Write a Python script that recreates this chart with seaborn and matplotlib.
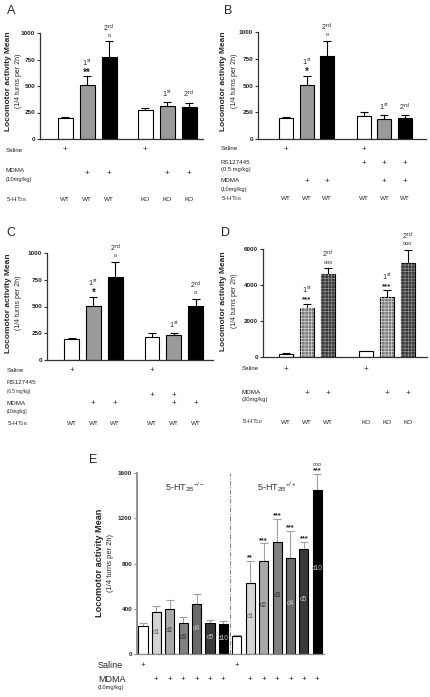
import numpy as np
import pandas as pd
import seaborn as sns
import matplotlib.pyplot as plt
from matplotlib.transforms import blended_transform_factory

W, H = 431, 697

# ---------------- data ----------------
# Panel A: WT / KO, saline + two MDMA sessions
A_vals = [195, 505, 772, 278, 312, 306]
A_sem = [10, 87, 148, 12, 36, 38]
A_sig = ["", "**", "o", "", "", ""]
A_ord = ["", "1st", "2nd", "", "1st", "2nd"]
A_saline = ["+", "", "", "+", "", ""]
A_mdma = ["", "+", "+", "", "+", "+"]
A_geno = ["WT", "WT", "WT", "KO", "KO", "KO"]

# Panel B: RS127445 pretreatment on all second-group bars
B_vals = [197, 505, 772, 215, 187, 200]
B_sem = [8, 87, 148, 37, 38, 25]
B_sig = ["", "*", "o", "", "", ""]
B_ord = ["", "1st", "2nd", "", "1st", "2nd"]
B_saline = ["+", "", "", "+", "", ""]
B_rs = ["", "", "", "+", "+", "+"]
B_mdma = ["", "+", "+", "", "+", "+"]
B_geno = ["WT"] * 6

# Panel C: RS127445 only before the first MDMA session
C_vals = [197, 505, 772, 212, 234, 506]
C_sem = [8, 87, 148, 38, 16, 63]
C_sig = ["", "*", "o", "", "", "o"]
C_ord = ["", "1st", "2nd", "", "1st", "2nd"]
C_saline = ["+", "", "", "+", "", ""]
C_rs = ["", "", "", "+", "+", ""]
C_mdma = ["", "+", "+", "", "+", "+"]
C_geno = ["WT"] * 6

# Panel D: MDMA 30 mg/kg
D_vals = [180, 2740, 4620, 320, 3320, 5230]
D_sem = [15, 230, 300, 25, 390, 700]
D_sig = ["", "***", "ooo", "", "***", "ooo"]
D_ord = ["", "1st", "2nd", "", "1st", "2nd"]
D_saline = ["+", "", "", "+", "", ""]
D_mdma = ["", "+", "+", "", "+", "+"]
D_geno = ["WT", "WT", "WT", "KO", "KO", "KO"]

# Panel E: daily MDMA, KO (-/-) then WT (+/+)
E_days = ["", "d1", "d2", "d3", "d4", "d5", "d10"]
E_ko = [250, 370, 400, 274, 439, 274, 265]
E_ko_sem = [24, 51, 75, 51, 90, 27, 30]
E_wt = [159, 631, 821, 987, 853, 924, 1452]
E_wt_sem = [9, 193, 157, 204, 234, 69, 139]
E_wt_sig = ["", "**", "***", "***", "***", "***", "***"]
E_saline = ["+", "", "", "", "", "", ""]
E_mdma = ["", "+", "+", "+", "+", "+", "+"]

# ---------------- style ----------------
sns.set_theme(style="ticks")
plt.rcParams["font.family"] = ["Liberation Sans", "DejaVu Sans"]
plt.rcParams["mathtext.fontset"] = "custom"
plt.rcParams["mathtext.rm"] = "Liberation Sans"
plt.rcParams["mathtext.it"] = "Liberation Sans:italic"
plt.rcParams["mathtext.bf"] = "Liberation Sans:bold"
plt.rcParams["hatch.linewidth"] = 0.5

fig = plt.figure(figsize=(W / 100, H / 100), dpi=100)
HT2B = r"5-HT$_{\mathregular{2B}}$"


def add_ax(l, t, r, b):
    return fig.add_axes([l / W, 1 - b / H, (r - l) / W, (b - t) / H])


def ftext(x, y, s, **kw):
    fig.text(x / W, 1 - y / H, s, **kw)


def group_pos(n, split, gap):
    return [i + (gap if i >= split else 0) for i in range(n)]


def bar_panel(ax, pos, vals, sems, colors, yticks, xlim, ecolor="black",
              spine="#333333", width=0.68):
    keys = [f"b{i}" for i in range(len(vals))]
    df = pd.DataFrame({"pos": pos, "val": vals, "key": keys})
    sns.barplot(data=df, x="pos", y="val", hue="key", hue_order=keys,
                palette=dict(zip(keys, colors)), native_scale=True,
                width=width, edgecolor="black", linewidth=0.8,
                errorbar=None, legend=False, ax=ax)
    eb = ax.errorbar(pos, vals, yerr=[np.zeros(len(vals)), sems], fmt="none",
                     ecolor=ecolor, elinewidth=0.8, capsize=3, capthick=0.8,
                     zorder=0.5)
    eb[1][0].set_visible(False)
    ax.set_xlim(*xlim)
    ax.set_ylim(0, yticks[-1])
    ax.set_yticks(yticks)
    ax.set_yticklabels([str(t) for t in yticks], fontsize=4.6,
                       fontweight="bold")
    ax.set_xlabel("")
    ax.set_ylabel("")
    ax.tick_params(axis="x", bottom=False, labelbottom=False)
    ax.tick_params(axis="y", length=2.5, width=0.8, pad=1, color=spine)
    for s in ["top", "right"]:
        ax.spines[s].set_visible(False)
    for s in ["left", "bottom"]:
        ax.spines[s].set_color(spine)
        ax.spines[s].set_linewidth(0.9)


def annotate(ax, pos, vals, sems, sig, ords, star_fs=7.0, star_off=2.4):
    for p, v, s, g, o in zip(pos, vals, sems, sig, ords):
        top = v + s
        if g:
            star = "*" in g
            ax.annotate(g, (p, top), xytext=(0, star_off if star else 4.6),
                        textcoords="offset points", ha="center", va="center",
                        fontsize=star_fs if star else 4.0,
                        fontweight="bold" if star else "normal")
        if o:
            txt = o[0] + r"$^{\mathregular{" + o[1:] + "}}$"
            off = 9.8 if g else 5.8
            ax.annotate(txt, (p, top), xytext=(0, off), textcoords="offset points",
                        ha="center", va="center", fontsize=5.2)


def mark_row(ax, pos, marks, y, fs=5.8, weight="normal"):
    trans = blended_transform_factory(ax.transData, fig.transFigure)
    for p, m in zip(pos, marks):
        if m:
            ax.text(p, 1 - y / H, m, transform=trans, ha="center", va="center",
                    fontsize=fs, fontweight=weight, clip_on=False)


def ylabels(xm, xs, y, fs1=6.0, fs2=5.0):
    ftext(xm, y, "Locomotor activity Mean", rotation=90, ha="center",
          va="center", fontsize=fs1, fontweight="bold")
    ftext(xs, y, "(1/4 turns per 2h)", rotation=90, ha="center",
          va="center", fontsize=fs2)


three = ["white", "#9a9a9a", "black"] * 2

# ---------------- A ----------------
axA = add_ax(40, 33, 203, 139)
posA = group_pos(6, 3, 0.64)
bar_panel(axA, posA, A_vals, A_sem, three, [0, 250, 500, 750, 1000], (-1.14, 6.27))
annotate(axA, posA, A_vals, A_sem, A_sig, A_ord)
ftext(11, 11, "A", ha="center", va="center", fontsize=9)
ylabels(9, 19, 81)
ftext(6, 150, "Saline", va="center", fontsize=4.5)
mark_row(axA, posA, A_saline, 150)
ftext(6, 171, "MDMA", va="center", fontsize=4.5)
ftext(6, 179, "(10mg/kg)", va="center", fontsize=4.2)
mark_row(axA, posA, A_mdma, 173)
ftext(6, 200, HT2B, va="center", fontsize=4.5)
mark_row(axA, posA, A_geno, 200, fs=4.6)

# ---------------- B ----------------
axB = add_ax(258, 32, 426, 139)
posB = group_pos(6, 3, 0.8)
bar_panel(axB, posB, B_vals, B_sem, three, [0, 250, 500, 750, 1000], (-1.37, 6.83))
annotate(axB, posB, B_vals, B_sem, B_sig, B_ord)
ftext(228, 11, "B", ha="center", va="center", fontsize=9)
ylabels(224, 235, 81)
ftext(221, 149, "Saline", va="center", fontsize=4.5)
mark_row(axB, posB, B_saline, 149)
ftext(221, 162, "RS127445", va="center", fontsize=4.5)
ftext(221, 170, "(0.5 mg/kg)", va="center", fontsize=4.2)
mark_row(axB, posB, B_rs, 163)
ftext(221, 181, "MDMA", va="center", fontsize=4.5)
ftext(221, 189, "(10mg/kg)", va="center", fontsize=4.2)
mark_row(axB, posB, B_mdma, 181)
ftext(221, 199, HT2B, va="center", fontsize=4.5)
mark_row(axB, posB, B_geno, 199, fs=4.6)

# ---------------- C ----------------
axC = add_ax(47, 253, 213, 360)
posC = group_pos(6, 3, 0.68)
bar_panel(axC, posC, C_vals, C_sem, three, [0, 250, 500, 750, 1000], (-1.13, 6.48))
annotate(axC, posC, C_vals, C_sem, C_sig, C_ord)
ftext(11, 233, "C", ha="center", va="center", fontsize=9)
ylabels(9, 19, 303)
ftext(7, 371, "Saline", va="center", fontsize=4.5)
mark_row(axC, posC, C_saline, 371)
ftext(7, 382, "RS127445", va="center", fontsize=4.5)
ftext(7, 391, "(0.5 mg/kg)", va="center", fontsize=3.3)
mark_row(axC, posC, C_rs, 395)
ftext(7, 403, "MDMA", va="center", fontsize=4.5)
ftext(7, 411, "(10mg/kg)", va="center", fontsize=3.3)
mark_row(axC, posC, C_mdma, 403)
ftext(7, 424, HT2B, va="center", fontsize=4.5)
mark_row(axC, posC, C_geno, 424, fs=4.6)

# ---------------- D ----------------
axD = add_ax(263, 249, 427, 357)
posD = group_pos(6, 3, 0.8)
d_cols = ["white", "#7f7f7f", "#3a3a3a"] * 2
bar_panel(axD, posD, D_vals, D_sem, d_cols, [0, 2000, 4000, 6000], (-1.1, 6.71))
hatch_cols = ["", "#cfcfcf", "#8c8c8c"] * 2
for p, v, hc in zip(posD, D_vals, hatch_cols):
    if hc:
        axD.bar(p, v, 0.68, fill=False, edgecolor=hc, linewidth=0,
                hatch="+++++", zorder=2)
annotate(axD, posD, D_vals, D_sem, D_sig, D_ord, star_fs=5.8, star_off=2.8)
ftext(225, 233, "D", ha="center", va="center", fontsize=9)
ylabels(224, 235, 301)
ftext(242, 369, "Saline", va="center", fontsize=4.5)
mark_row(axD, posD, D_saline, 369)
ftext(242, 392, "MDMA", va="center", fontsize=4.5)
ftext(242, 399, "(30mg/kg)", va="center", fontsize=4.2)
mark_row(axD, posD, D_mdma, 394)
ftext(242, 422, HT2B, va="center", fontsize=4.5)
mark_row(axD, posD, D_geno, 422, fs=4.6)

# ---------------- E ----------------
axE = add_ax(137, 473, 324, 654)
e_vals = E_ko + E_wt
e_sem = E_ko_sem + E_wt_sem
posE = list(range(len(e_vals)))
e_cols = ["white", "#d4d4d4", "#a9a9a9", "#808080", "#696969", "#383838", "black"] * 2
bar_panel(axE, posE, e_vals, e_sem, e_cols, [0, 400, 800, 1200, 1600],
          (-0.45, 13.5), ecolor="#a0a0a0", spine="#8a8a8a")
axE.spines["left"].set_linewidth(1.3)
axE.axvline(6.5, color="#8a8a8a", lw=0.8, ls=(0, (4, 1.5, 1, 1.5)), zorder=0)
day_cols = ["", "#666666", "#3a3a3a", "#2a2a2a", "#c8c8c8", "#bdbdbd", "#cfcfcf"] * 2
for p, v, d, c in zip(posE, e_vals, E_days * 2, day_cols):
    if d:
        axE.text(p, v * 0.52, d, ha="center", va="center", fontsize=4.8, color=c)
e_sig = [""] * 7 + E_wt_sig
annotate(axE, posE, e_vals, e_sem, e_sig, [""] * 14, star_fs=5.4, star_off=2.2)
axE.annotate("ooo", (13, e_vals[13] + e_sem[13]), xytext=(0, 7),
             textcoords="offset points", ha="center", va="center", fontsize=3.8)
axE.text(3.1, 1480, r"5-HT$_{\mathregular{2B}}$$^{\mathregular{-/-}}$", ha="center",
         va="center", fontsize=6.5, color="#333333")
axE.text(10.0, 1480, r"5-HT$_{\mathregular{2B}}$$^{\mathregular{+/+}}$", ha="center",
         va="center", fontsize=6.5, color="#333333")
ftext(93, 460, "E", ha="center", va="center", fontsize=9)
ylabels(100, 111, 563, fs1=6.6, fs2=5.4)
ftext(98, 665, "Saline", va="center", fontsize=6.5)
mark_row(axE, posE, E_saline * 2, 665, fs=5.8)
ftext(98, 679, "MDMA", va="center", fontsize=6.5)
ftext(98, 688, "(10mg/kg)", va="center", fontsize=4.2)
mark_row(axE, posE, E_mdma * 2, 679, fs=5.8)

fig.savefig("out.png", dpi=100)
